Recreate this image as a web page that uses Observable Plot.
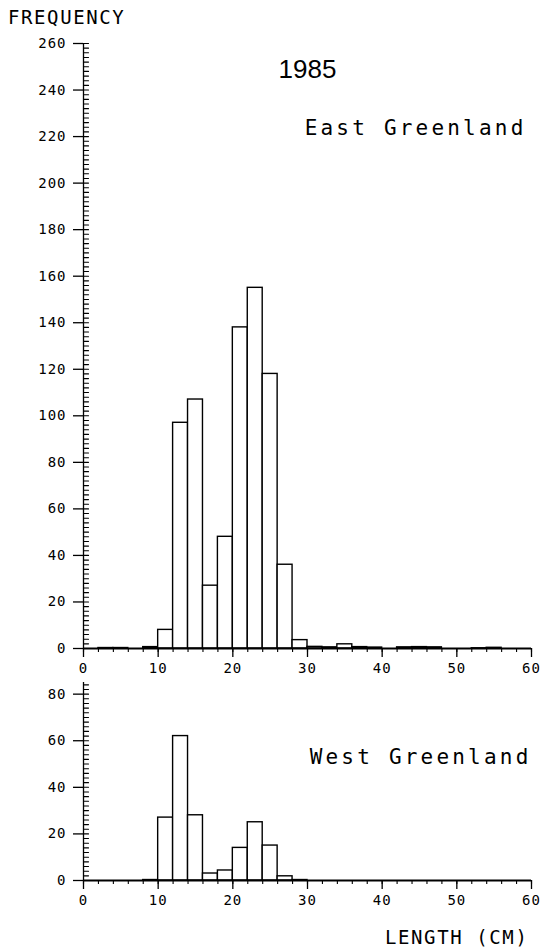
<!DOCTYPE html>
<html><head><meta charset="utf-8">
<script src="https://cdn.jsdelivr.net/npm/d3@7"></script>
<script src="https://cdn.jsdelivr.net/npm/@observablehq/plot@0.6"></script>
<style>
body{margin:0;background:#fff;}
#wrap{position:relative;width:545px;height:950px;overflow:hidden;font-family:"DejaVu Sans Mono",monospace;color:#000}
.lbl{position:absolute;font-size:19px;letter-spacing:1.6px;line-height:1;white-space:nowrap}
#wrap svg{position:absolute;left:0}
svg g[aria-label$="tick label"] text{letter-spacing:1px}
svg g[aria-label="text"][font-family="DejaVu Sans Mono"] text{letter-spacing:3.2px}
</style></head><body>
<div id="wrap">
<div class="lbl" style="left:8px;top:8px">FREQUENCY</div>
<div class="lbl" style="left:385px;top:928px">LENGTH (CM)</div>
</div>
<script>
// 2-cm length classes
const binStart = [0,2,4,6,8,10,12,14,16,18,20,22,24,26,28,30,32,34,36,38,40,42,44,46,48,50,52,54,56,58];
const binEnd   = [2,4,6,8,10,12,14,16,18,20,22,24,26,28,30,32,34,36,38,40,42,44,46,48,50,52,54,56,58,60];
const eastFreq = [0,0.2,0.2,0,0.6,8,97,107,27,48,138,155,118,36,3.6,0.7,0.5,1.8,0.6,0.4,0,0.5,0.6,0.5,0,0,0.1,0.3,0,0];
const westFreq = [0,0,0,0,0.2,27,62,28,3,4.3,14,25,15,1.8,0.2,0,0,0,0,0,0,0,0,0,0,0,0,0,0,0];
const xMajor = [0,10,20,30,40,50,60];
const eastYMajor = [0,20,40,60,80,100,120,140,160,180,200,220,240,260];
const westYMajor = [0,20,40,60,80];
const xMinor = d3.range(0, 61, 2);

const lineShape = {draw(ctx, l){ ctx.moveTo(0,0); ctx.lineTo(0,-l); }};

function panel({values, yMax, yMajor, top, height, marginTop, marginBottom, notes}) {
  const rows = binStart.map((s,i)=>({x1:s, x2:binEnd[i], f: values[i]}));
  const yMinor = d3.range(0, yMax + 0.1, 2);
  const svg = Plot.plot({
    width: 545, height, marginLeft: 83, marginRight: 14, marginTop, marginBottom,
    style: {fontFamily: "DejaVu Sans Mono", fontSize: "14px", background: "transparent", color: "black"},
    x: {domain: [0,60]},
    y: {domain: [0,yMax]},
    marks: [
      Plot.rectY(rows, {x1:"x1", x2:"x2", y:"f", fill:"white", stroke:"black", strokeWidth:1.4}),
      Plot.ruleY([0], {stroke:"black", strokeWidth:1.8}),
      Plot.ruleX([0], {stroke:"black", strokeWidth:1.3}),
      Plot.axisX({ticks: xMajor, tickSize: 9, tickPadding: 6, label: null, fontSize: 14, strokeWidth: 1.3}),
      Plot.axisX({ticks: xMinor, tickSize: 4, tickFormat: () => "", label: null, strokeWidth: 1.1}),
      Plot.axisY({ticks: yMajor, tickSize: 10, tickPadding: 7, label: null, fontSize: 14, strokeWidth: 1.3}),
      Plot.vector(yMinor, {y: d=>d, frameAnchor:"left", rotate: 90, length: 5, anchor:"start", shape: lineShape, stroke:"black", strokeWidth: 1.1}),
      ...notes
    ]
  });
  svg.style.top = top + "px";
  document.getElementById("wrap").appendChild(svg);
}

panel({
  values: eastFreq, yMax: 260, yMajor: eastYMajor, top: 0, height: 680, marginTop: 43, marginBottom: 32,
  notes: [
    Plot.text(["1985"], {text: d=>d, frameAnchor: "top", dy: 26, fontSize: 26, fontFamily: "Liberation Sans", lineAnchor: "middle"}),
    Plot.text(["East Greenland"], {text: d=>d, frameAnchor: "top-right", dx: -5, dy: 85, fontSize: 21, fontFamily: "DejaVu Sans Mono", textAnchor: "end", lineAnchor: "middle"})
  ]
});
panel({
  values: westFreq, yMax: 85, yMajor: westYMajor, top: 680, height: 235, marginTop: 2, marginBottom: 35,
  notes: [
    Plot.text(["West Greenland"], {text: d=>d, frameAnchor: "top-right", dx: 0, dy: 75, fontSize: 21, fontFamily: "DejaVu Sans Mono", textAnchor: "end", lineAnchor: "middle"})
  ]
});
</script>
</body></html>
